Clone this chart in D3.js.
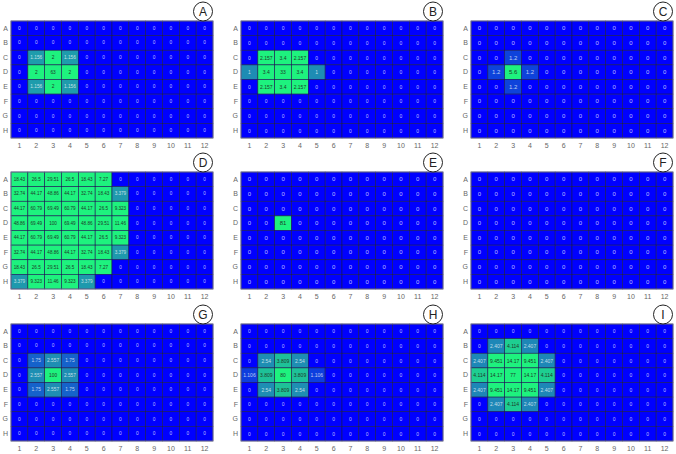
<!DOCTYPE html>
<html>
<head>
<meta charset="utf-8">
<script src="https://cdn.jsdelivr.net/npm/d3@7"></script>
<style>
  body { margin: 0; background: #fff; }
  text { font-family: "Liberation Sans", Arial, sans-serif; }
  svg { -webkit-font-smoothing: antialiased; }
</style>
</head>
<body>
<div id="chart"></div>
<script>
const rowLabels = ["A", "B", "C", "D", "E", "F", "G", "H"];
const colLabels = ["1", "2", "3", "4", "5", "6", "7", "8", "9", "10", "11", "12"];
const panelNames = ["A", "B", "C", "D", "E", "F", "G", "H", "I"];

const panelA = [
  [0,0,0,0,0,0,0,0,0,0,0,0],
  [0,0,0,0,0,0,0,0,0,0,0,0],
  [0,1.156,2,1.156,0,0,0,0,0,0,0,0],
  [0,2,63,2,0,0,0,0,0,0,0,0],
  [0,1.156,2,1.156,0,0,0,0,0,0,0,0],
  [0,0,0,0,0,0,0,0,0,0,0,0],
  [0,0,0,0,0,0,0,0,0,0,0,0],
  [0,0,0,0,0,0,0,0,0,0,0,0]
];
const panelB = [
  [0,0,0,0,0,0,0,0,0,0,0,0],
  [0,0,0,0,0,0,0,0,0,0,0,0],
  [0,2.157,3.4,2.157,0,0,0,0,0,0,0,0],
  [1,3.4,33,3.4,1,0,0,0,0,0,0,0],
  [0,2.157,3.4,2.157,0,0,0,0,0,0,0,0],
  [0,0,0,0,0,0,0,0,0,0,0,0],
  [0,0,0,0,0,0,0,0,0,0,0,0],
  [0,0,0,0,0,0,0,0,0,0,0,0]
];
const panelC = [
  [0,0,0,0,0,0,0,0,0,0,0,0],
  [0,0,0,0,0,0,0,0,0,0,0,0],
  [0,0,1.2,0,0,0,0,0,0,0,0,0],
  [0,1.2,5.6,1.2,0,0,0,0,0,0,0,0],
  [0,0,1.2,0,0,0,0,0,0,0,0,0],
  [0,0,0,0,0,0,0,0,0,0,0,0],
  [0,0,0,0,0,0,0,0,0,0,0,0],
  [0,0,0,0,0,0,0,0,0,0,0,0]
];
const panelD = [
  [18.43,26.5,29.51,26.5,18.43,7.27,0,0,0,0,0,0],
  [32.74,44.17,48.86,44.17,32.74,18.43,3.379,0,0,0,0,0],
  [44.17,60.79,69.49,60.79,44.17,26.5,9.323,0,0,0,0,0],
  [48.86,69.49,100,69.49,48.86,29.51,11.46,0,0,0,0,0],
  [44.17,60.79,69.49,60.79,44.17,26.5,9.323,0,0,0,0,0],
  [32.74,44.17,48.86,44.17,32.74,18.43,3.379,0,0,0,0,0],
  [18.43,26.5,29.51,26.5,18.43,7.27,0,0,0,0,0,0],
  [3.379,9.323,11.46,9.323,3.379,0,0,0,0,0,0,0]
];
const panelE = [
  [0,0,0,0,0,0,0,0,0,0,0,0],
  [0,0,0,0,0,0,0,0,0,0,0,0],
  [0,0,0,0,0,0,0,0,0,0,0,0],
  [0,0,81,0,0,0,0,0,0,0,0,0],
  [0,0,0,0,0,0,0,0,0,0,0,0],
  [0,0,0,0,0,0,0,0,0,0,0,0],
  [0,0,0,0,0,0,0,0,0,0,0,0],
  [0,0,0,0,0,0,0,0,0,0,0,0]
];
const panelF = [
  [0,0,0,0,0,0,0,0,0,0,0,0],
  [0,0,0,0,0,0,0,0,0,0,0,0],
  [0,0,0,0,0,0,0,0,0,0,0,0],
  [0,0,0,0,0,0,0,0,0,0,0,0],
  [0,0,0,0,0,0,0,0,0,0,0,0],
  [0,0,0,0,0,0,0,0,0,0,0,0],
  [0,0,0,0,0,0,0,0,0,0,0,0],
  [0,0,0,0,0,0,0,0,0,0,0,0]
];
const panelG = [
  [0,0,0,0,0,0,0,0,0,0,0,0],
  [0,0,0,0,0,0,0,0,0,0,0,0],
  [0,1.75,2.557,1.75,0,0,0,0,0,0,0,0],
  [0,2.557,100,2.557,0,0,0,0,0,0,0,0],
  [0,1.75,2.557,1.75,0,0,0,0,0,0,0,0],
  [0,0,0,0,0,0,0,0,0,0,0,0],
  [0,0,0,0,0,0,0,0,0,0,0,0],
  [0,0,0,0,0,0,0,0,0,0,0,0]
];
const panelH = [
  [0,0,0,0,0,0,0,0,0,0,0,0],
  [0,0,0,0,0,0,0,0,0,0,0,0],
  [0,2.54,3.809,2.54,0,0,0,0,0,0,0,0],
  [1.106,3.809,80,3.809,1.106,0,0,0,0,0,0,0],
  [0,2.54,3.809,2.54,0,0,0,0,0,0,0,0],
  [0,0,0,0,0,0,0,0,0,0,0,0],
  [0,0,0,0,0,0,0,0,0,0,0,0],
  [0,0,0,0,0,0,0,0,0,0,0,0]
];
const panelI = [
  [0,0,0,0,0,0,0,0,0,0,0,0],
  [0,2.407,4.114,2.407,0,0,0,0,0,0,0,0],
  [2.407,9.451,14.17,9.451,2.407,0,0,0,0,0,0,0],
  [4.114,14.17,77,14.17,4.114,0,0,0,0,0,0,0],
  [2.407,9.451,14.17,9.451,2.407,0,0,0,0,0,0,0],
  [0,2.407,4.114,2.407,0,0,0,0,0,0,0,0],
  [0,0,0,0,0,0,0,0,0,0,0,0],
  [0,0,0,0,0,0,0,0,0,0,0,0]
];
// upper end of each panel's colour scale (values above saturate to green)
const colorMax = [2, 2, 5, 6, 5, 5, 5, 5, 5];

const panels = [panelA, panelB, panelC, panelD, panelE, panelF, panelG, panelH, panelI];

const width = 676;
const height = 454;
const gridLeft = [11, 241, 471];
const gridTop = [21, 172, 324];
const gw = 202, gh = 117;
const fontSizes = [4.8, 5, 6, 4.6, 6, 6, 4.8, 5, 5];

const svg = d3.select("#chart")
  .append("svg")
  .attr("width", width)
  .attr("height", height);

const x = d3.scaleBand().domain(colLabels).range([0, gw]);
const y = d3.scaleBand().domain(rowLabels).range([0, gh]);

panels.forEach((grid, p) => {
  const color = d3.scaleLinear()
    .domain([0, colorMax[p] / 2, colorMax[p]])
    .range(["#0000ff", "#1e8cb4", "#1ef27e"])
    .clamp(true);

  const cells = [];
  grid.forEach((row, r) => row.forEach((v, c) => {
    cells.push({ row: rowLabels[r], col: colLabels[c], value: v });
  }));

  const g = svg.append("g")
    .attr("transform", `translate(${gridLeft[p % 3]},${gridTop[Math.floor(p / 3)]})`);

  g.selectAll("rect.cell")
    .data(cells)
    .join("rect")
      .attr("class", "cell")
      .attr("x", d => x(d.col))
      .attr("y", d => y(d.row))
      .attr("width", x.bandwidth())
      .attr("height", y.bandwidth())
      .attr("fill", d => color(d.value))
      .attr("stroke", "#1a1a55")
      .attr("stroke-width", 0.6);

  g.selectAll("text.val")
    .data(cells)
    .join("text")
      .attr("class", "val")
      .attr("x", d => x(d.col) + x.bandwidth() / 2)
      .attr("y", d => y(d.row) + y.bandwidth() / 2)
      .attr("text-anchor", "middle")
      .attr("dominant-baseline", "central")
      .attr("font-size", fontSizes[p])
      .attr("fill", d => d3.lab(color(d.value)).l > 65 ? "#1f3a2a" : "rgba(255,255,255,0.72)")
      .text(d => d.value);

  g.append("rect")
    .attr("width", gw)
    .attr("height", gh)
    .attr("fill", "none")
    .attr("stroke", "#7a7a99")
    .attr("stroke-width", 0.8);

  // slight opacity keeps the small gray labels free of colour fringes
  g.append("g")
    .attr("opacity", 0.99)
    .call(d3.axisLeft(y).tickSize(0).tickPadding(3))
    .call(a => a.select(".domain").remove())
    .call(a => a.selectAll("text").attr("fill", "#666").attr("font-size", 7));

  g.append("g")
    .attr("opacity", 0.99)
    .attr("transform", `translate(0,${gh})`)
    .call(d3.axisBottom(x).tickSize(0).tickPadding(5))
    .call(a => a.select(".domain").remove())
    .call(a => a.selectAll("text").attr("fill", "#666").attr("font-size", 7));

  g.append("circle")
    .attr("cx", gw - 10)
    .attr("cy", -9.5)
    .attr("r", 9.5)
    .attr("fill", "#fff")
    .attr("stroke", "#222")
    .attr("stroke-width", 1);

  g.append("text")
    .attr("x", gw - 10)
    .attr("y", -9.5)
    .attr("text-anchor", "middle")
    .attr("dominant-baseline", "central")
    .attr("font-size", 12)
    .attr("fill", "#222")
    .text(panelNames[p]);
});
</script>
</body>
</html>
